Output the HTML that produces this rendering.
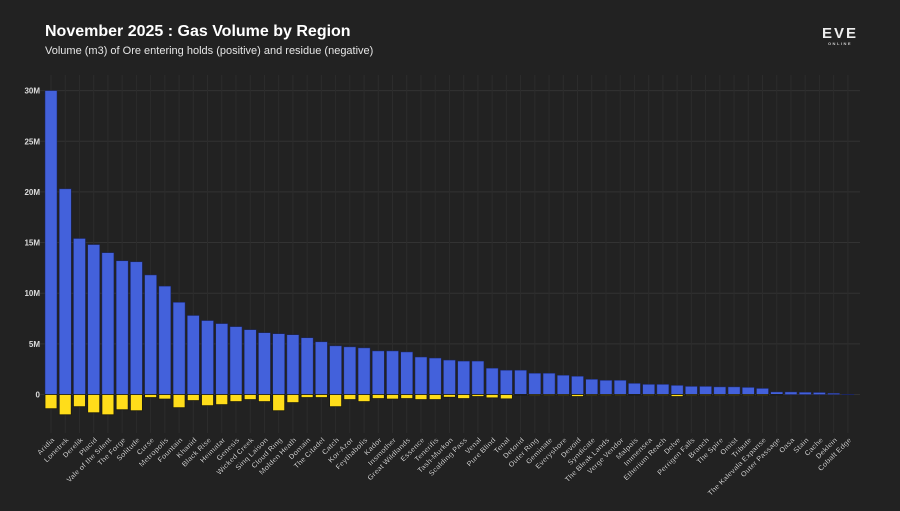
<!DOCTYPE html>
<html><head><meta charset="utf-8"><style>
body{margin:0;background:#222;width:900px;height:506px;overflow:hidden;font-family:"Liberation Sans",sans-serif}
</style></head><body>
<svg id="c" width="900" height="506" xmlns="http://www.w3.org/2000/svg">
<rect width="900" height="506" fill="#222"/>
<text x="45" y="36" fill="#fff" font-size="16" font-weight="bold">November 2025 : Gas Volume by Region</text>
<text x="45" y="54" fill="#e6e6e6" font-size="11">Volume (m3) of Ore entering holds (positive) and residue (negative)</text>
<g>
<text x="840" y="38" fill="#eee" font-size="15" font-weight="bold" text-anchor="middle" letter-spacing="2">EVE</text>
<text x="840" y="45" fill="#ccc" font-size="4" font-weight="bold" text-anchor="middle" letter-spacing="1.5">ONLINE</text>
</g>
<g id="grid"></g><g id="bars"></g><g id="labels"></g>
</svg>
<script>
const categories=["Aridia","Lonetrek","Derelik","Placid","Vale of the Silent","The Forge","Solitude","Curse","Metropolis","Fountain","Khanid","Black Rise","Heimatar","Genesis","Wicked Creek","Sinq Laison","Cloud Ring","Molden Heath","Domain","The Citadel","Catch","Kor-Azor","Feythabolis","Kador","Insmother","Great Wildlands","Essence","Tenerifis","Tash-Murkon","Scalding Pass","Venal","Pure Blind","Tenal","Detorid","Outer Ring","Geminate","Everyshore","Devoid","Syndicate","The Bleak Lands","Verge Vendor","Malpais","Immensea","Etherium Reach","Delve","Perrigen Falls","Branch","The Spire","Omist","Tribute","The Kalevala Expanse","Outer Passage","Oasa","Stain","Cache","Deklein","Cobalt Edge"];
const gasIn=[30.0,20.3,15.4,14.8,14.0,13.2,13.1,11.8,10.7,9.1,7.8,7.3,7.0,6.7,6.4,6.1,6.0,5.9,5.6,5.2,4.8,4.7,4.6,4.3,4.3,4.2,3.7,3.6,3.4,3.3,3.3,2.6,2.4,2.4,2.1,2.1,1.9,1.8,1.5,1.4,1.4,1.1,1.0,1.0,0.9,0.8,0.8,0.75,0.75,0.7,0.6,0.25,0.25,0.22,0.2,0.12,0.02];
const residue=[-1.4,-2.0,-1.2,-1.8,-2.0,-1.5,-1.6,-0.3,-0.45,-1.3,-0.6,-1.1,-1.0,-0.7,-0.5,-0.7,-1.6,-0.8,-0.3,-0.3,-1.2,-0.5,-0.7,-0.4,-0.45,-0.4,-0.5,-0.5,-0.27,-0.4,-0.2,-0.33,-0.43,-0.05,-0.1,-0.1,-0.1,-0.2,-0.1,-0.1,-0.1,-0.05,-0.1,-0.1,-0.2,-0.1,-0.1,-0.1,-0.1,-0.1,-0.1,-0.05,0,0,0,0,0];
const yTicks=[0,5,10,15,20,25,30];
const yTickLabels=["0","5M","10M","15M","20M","25M","30M"];
const NS="http://www.w3.org/2000/svg";
const y0=394.5,pxPerM=10.13,x0=51,step=14.23,bw=12;
const yScale=v=>y0-v*pxPerM;
const xScale=i=>x0+i*step;
function mk(tag,attrs,parent){const e=document.createElementNS(NS,tag);for(const k in attrs)e.setAttribute(k,attrs[k]);parent.appendChild(e);return e;}
const grid=document.getElementById('grid'),bars=document.getElementById('bars'),labels=document.getElementById('labels');
yTicks.forEach((t,i)=>{
  const l=mk('line',{x1:40,x2:860,y1:yScale(t),y2:yScale(t),stroke:'#333','stroke-width':1},grid);
  
  
  const tx=mk('text',{x:40,y:yScale(t)+3,fill:'#ddd','font-size':8,'font-weight':'bold','text-anchor':'end'},grid);
  tx.textContent=yTickLabels[i];
  
  
});
categories.forEach((c,i)=>{
  const x=xScale(i);
  const g=mk('line',{x1:x,x2:x,y1:75,y2:433,stroke:'#2c2c2c','stroke-width':1},grid);
  
  
  const b=mk('rect',{x:x-bw/2,y:yScale(gasIn[i]),width:bw,height:Math.max(0.5,gasIn[i]*pxPerM),fill:'#4361db',stroke:'#1a2460','stroke-width':0.5},bars);
  
  
  if(residue[i]<0){
    const r=mk('rect',{x:x-bw/2,y:y0,width:bw,height:-residue[i]*pxPerM,fill:'#ffdd1a',stroke:'#1a1a10','stroke-width':0.8},bars);
    
    
  }
  const t=mk('text',{x:0,y:0,fill:'#ddd','font-size':7.5,'font-weight':'bold','text-anchor':'end',transform:`translate(${x+4},${y0+46}) rotate(-45)`,stroke:'#000','stroke-width':0.3},labels);
  t.textContent=c;
  
  
});
</script>
</body></html>
